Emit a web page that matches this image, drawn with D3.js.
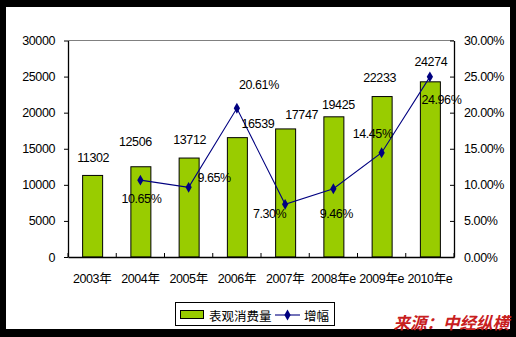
<!DOCTYPE html>
<html>
<head>
<meta charset="utf-8">
<script src="https://cdn.jsdelivr.net/npm/d3@7"></script>
<style>
  html, body { margin: 0; padding: 0; background: #000; }
  svg { display: block; }
  text { font-family: "Liberation Sans", Arial, "Noto Sans CJK SC", sans-serif; font-size: 12px; fill: #000; }
</style>
</head>
<body>
<svg id="chart" width="516" height="337"></svg>
<script>
// Apparent consumption (bars) and year-on-year growth (line)
const years = ["2003年", "2004年", "2005年", "2006年", "2007年", "2008年e", "2009年e", "2010年e"];
const consumption = [11302, 12506, 13712, 16539, 17747, 19425, 22233, 24274];
const growthYears = ["2004年", "2005年", "2006年", "2007年", "2008年e", "2009年e", "2010年e"];
const growth = [10.65, 9.65, 20.61, 7.30, 9.46, 14.45, 24.96];
const leftTicks = [0, 5000, 10000, 15000, 20000, 25000, 30000];
const rightTicks = [0, 5, 10, 15, 20, 25, 30];
const seriesNames = ["表观消费量", "增幅"];
const sourceText = "来源：中经纵横";

// hand-placed label nudges (dx, dy) relative to each bar top / point
const barLabelNudge = [[1, -17.5], [-5, -25], [1, -18], [21, -14], [16.5, -13.5], [5, -11.5], [-2, -19], [1, -20]];
const pctLabelNudge = [[1, 18.5], [25.5, -9], [22, -23], [-15.5, 10], [3, 25], [-9, -18.5], [11.5, 23]];

const svg = d3.select("#chart");

// white chart area inside the black frame
svg.append("rect").attr("x", 6).attr("y", 7).attr("width", 504).attr("height", 322).attr("fill", "#fff");

const plot = { left: 68, right: 454, top: 40.5, bottom: 257 };

const x = d3.scaleBand().domain(years).range([plot.left, plot.right]);
const yL = d3.scaleLinear().domain([0, 30000]).range([plot.bottom, plot.top]);
const yR = d3.scaleLinear().domain([0, 30]).range([plot.bottom, plot.top]);

// plot frame top edge (grey)
svg.append("line")
  .attr("x1", plot.left).attr("x2", plot.right)
  .attr("y1", plot.top).attr("y2", plot.top)
  .attr("stroke", "#808080").attr("stroke-width", 1);

// bars
const barW = 20;
svg.append("g").selectAll("rect").data(consumption).join("rect")
  .attr("x", (d, i) => x(years[i]) + x.bandwidth() / 2 - barW / 2 + 0.5)
  .attr("y", d => yL(d))
  .attr("width", barW)
  .attr("height", d => plot.bottom - yL(d))
  .attr("fill", "#99CC00")
  .attr("stroke", "#000")
  .attr("stroke-width", 1);

// left axis
const leftAxis = svg.append("g").attr("transform", `translate(${plot.left},0)`)
  .call(d3.axisLeft(yL).tickValues(leftTicks).tickFormat(d3.format("d")).tickSizeInner(4).tickSizeOuter(0).tickPadding(9));
// right axis (ticks point inward)
const rightAxis = svg.append("g").attr("transform", `translate(${plot.right},0)`)
  .call(d3.axisRight(yR).tickValues(rightTicks).tickFormat(d => d.toFixed(2) + "%").tickSizeInner(-4).tickSizeOuter(0).tickPadding(10));
// bottom axis: ticks between categories, pointing up
const bottomAxis = svg.append("g").attr("transform", `translate(0,${plot.bottom})`)
  .call(d3.axisBottom(x).tickSize(0).tickPadding(17));
const bounds = years.map(y => x(y)).concat([plot.right]);
bottomAxis.selectAll(".sep").data(bounds).join("line").attr("class", "sep")
  .attr("x1", d => d).attr("x2", d => d).attr("y1", 0).attr("y2", -4)
  .attr("stroke", "#000");

[leftAxis, rightAxis, bottomAxis].forEach(g => {
  g.selectAll(".domain").attr("stroke", "#000").attr("stroke-width", 1.3);
  g.selectAll(".tick line").attr("stroke", "#000");
  g.selectAll("text")
    .style("font-size", "12.5px")
    .style("font-family", "'Liberation Sans', Arial, 'Noto Sans CJK SC', sans-serif")
    .attr("fill", "#000").attr("letter-spacing", "-0.4px");
});

// growth line
const pts = growth.map((g, i) => [x(growthYears[i]) + x.bandwidth() / 2, yR(g)]);
svg.append("path")
  .attr("d", d3.line()(pts))
  .attr("fill", "none")
  .attr("stroke", "#000080")
  .attr("stroke-width", 1.1);

const diamond = d3.symbol().type(d3.symbolDiamond).size(34);
svg.append("g").selectAll("path").data(pts).join("path")
  .attr("transform", d => `translate(${d[0]},${d[1]})`)
  .attr("d", diamond)
  .attr("fill", "#000080");

// bar value labels
svg.append("g").selectAll("text").data(consumption).join("text")
  .attr("x", (d, i) => x(years[i]) + x.bandwidth() / 2 + barLabelNudge[i][0])
  .attr("y", (d, i) => yL(d) + barLabelNudge[i][1])
  .attr("text-anchor", "middle")
  .attr("dominant-baseline", "central")
  .attr("letter-spacing", "-0.4px")
  .style("font-size", "12.5px")
  .text(d => d);

// growth labels
svg.append("g").selectAll("text").data(growth).join("text")
  .attr("x", (d, i) => pts[i][0] + pctLabelNudge[i][0])
  .attr("y", (d, i) => pts[i][1] + pctLabelNudge[i][1])
  .attr("text-anchor", "middle")
  .attr("dominant-baseline", "central")
  .attr("letter-spacing", "-0.4px")
  .style("font-size", "12.5px")
  .text(d => d.toFixed(2) + "%");

// legend
const lg = svg.append("g");
lg.append("rect").attr("x", 175.5).attr("y", 302.5).attr("width", 159).attr("height", 23)
  .attr("fill", "#fff").attr("stroke", "#000").attr("stroke-width", 1);
lg.append("rect").attr("x", 180.5).attr("y", 310.5).attr("width", 23).attr("height", 8)
  .attr("fill", "#99CC00").attr("stroke", "#000");
lg.append("text").attr("x", 209).attr("y", 315).attr("dominant-baseline", "central")
  .style("font-family", "'Noto Sans CJK SC', sans-serif").style("font-size", "12.5px")
  .text(seriesNames[0]);
lg.append("line").attr("x1", 275).attr("x2", 300).attr("y1", 315).attr("y2", 315)
  .attr("stroke", "#000080").attr("stroke-width", 1.1);
lg.append("path").attr("transform", "translate(287.5,315)").attr("d", diamond).attr("fill", "#000080");
lg.append("text").attr("x", 304).attr("y", 315).attr("dominant-baseline", "central")
  .style("font-family", "'Noto Sans CJK SC', sans-serif").style("font-size", "12.5px")
  .text(seriesNames[1]);

// source note
svg.append("text")
  .attr("x", 509).attr("y", 321.5)
  .attr("text-anchor", "end")
  .attr("dominant-baseline", "central")
  .style("font-family", "'Noto Sans CJK SC', sans-serif")
  .style("font-size", "16.5px")
  .style("font-weight", "bold")
  .style("font-style", "italic")
  .style("fill", "#C8201E")
  .text(sourceText);
</script>
</body>
</html>
